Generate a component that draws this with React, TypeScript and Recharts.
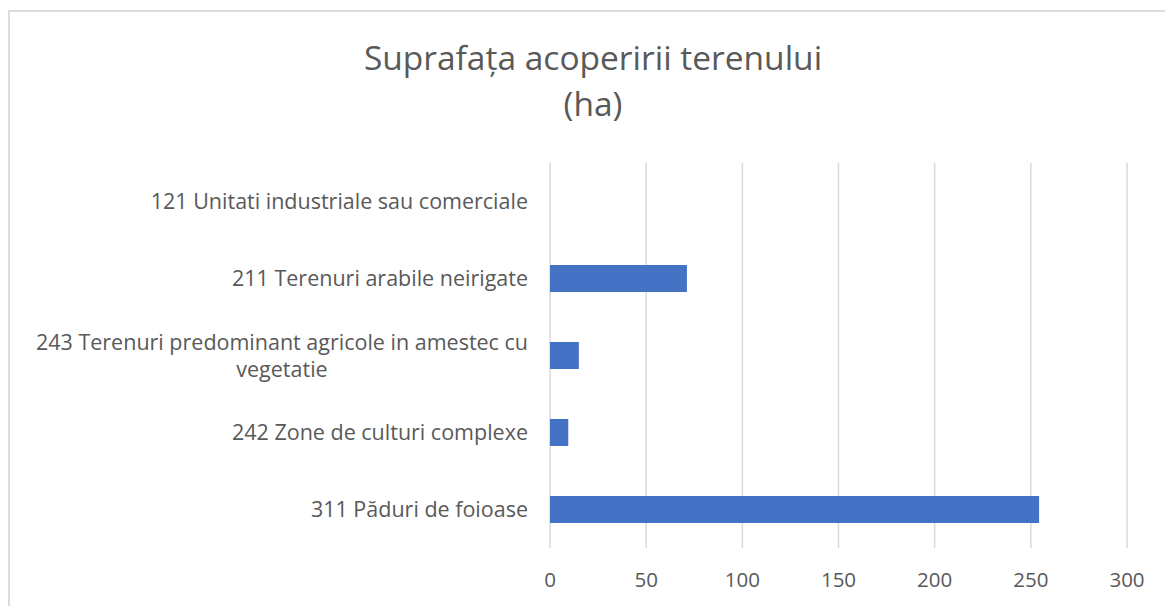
import { BarChart, Bar, XAxis, YAxis, CartesianGrid } from 'recharts'

const categories = [
  '121 Unitati industriale sau comerciale',
  '211 Terenuri arabile neirigate',
  '243 Terenuri predominant agricole in amestec cu vegetatie',
  '242 Zone de culturi complexe',
  '311 Păduri de foioase',
]
const areas = [0, 71.2, 15, 9.5, 254.3]
const xTicks = [0, 50, 100, 150, 200, 250, 300]

const data = categories.map((name, i) => ({ name, ha: areas[i] }))

const FONT = '"Open Sans", "Noto Sans", sans-serif'
const TEXT = '#595959'
const LABEL_SIZE = 21.5
const MAX_LABEL_W = 540

let ctx: CanvasRenderingContext2D | null = null
function measure(s: string) {
  if (!ctx) ctx = document.createElement('canvas').getContext('2d')
  if (!ctx) return s.length * LABEL_SIZE * 0.5
  ctx.font = `${LABEL_SIZE}px ${FONT}`
  return ctx.measureText(s).width
}

function wrap(label: string) {
  const lines: string[] = []
  let cur = ''
  for (const w of label.split(' ')) {
    const next = cur ? cur + ' ' + w : w
    if (cur && measure(next) > MAX_LABEL_W) {
      lines.push(cur)
      cur = w
    } else cur = next
  }
  if (cur) lines.push(cur)
  return lines
}

const CategoryTick = ({ x, y, payload }: any) => {
  const lines = wrap(String(payload.value))
  const blockW = Math.max(...lines.map(measure))
  const cx = x - 14 - blockW / 2
  const lh = 27
  const startY = y - ((lines.length - 1) * lh) / 2
  return (
    <g>
      {lines.map((l, i) => (
        <text key={i} x={cx} y={startY + i * lh} dy="0.35em" textAnchor="middle"
          fill={TEXT} fontSize={LABEL_SIZE} fontFamily={FONT}>
          {l}
        </text>
      ))}
    </g>
  )
}

export default function App() {
  return (
    <div style={{ position: 'absolute', left: 0, top: 0, width: 1165, height: 606, overflow: 'hidden', background: '#fff' }}>
      <div style={{ position: 'absolute', left: 8, top: 10, width: 1300, height: 700, border: '2px solid #dcdcdc' }} />
      <div style={{
        position: 'absolute', left: 0, top: 34, width: 1186, textAlign: 'center',
        fontFamily: FONT, fontSize: 33.5, color: TEXT, lineHeight: '46px',
      }}>
        Suprafața acoperirii terenului<br />(ha)
      </div>
      <div style={{ position: 'absolute', left: 0, top: 0 }}>
        <BarChart width={1165} height={606} data={data} layout="vertical"
          margin={{ top: 163, right: 38, bottom: 18, left: 0 }} barSize={27}>
          <CartesianGrid horizontal={false} stroke="#d9d9d9" strokeWidth={1.5} />
          <XAxis type="number" domain={[0, 300]} ticks={xTicks} interval={0}
            axisLine={false} tickLine={false} height={40} tickMargin={18}
            tick={{ fill: TEXT, fontSize: 20.5, fontFamily: FONT }} />
          <YAxis type="category" dataKey="name" width={550}
            axisLine={false} tickLine={false} interval={0} tick={<CategoryTick />} />
          <Bar dataKey="ha" fill="#4472c4" isAnimationActive={false} />
        </BarChart>
      </div>
    </div>
  )
}
